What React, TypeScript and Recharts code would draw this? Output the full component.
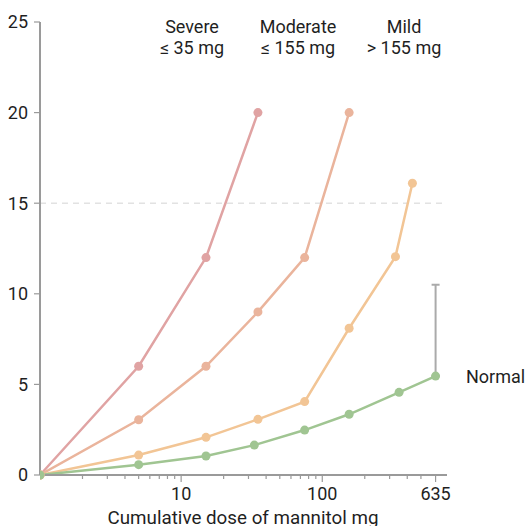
import React from 'react';
import { LineChart, Line, XAxis, YAxis, ReferenceLine, ErrorBar, Customized } from 'recharts';

const severeDose = [1, 5, 15, 35];
const severeFall = [0, 6, 12, 20];
const moderateDose = [1, 5, 15, 35, 75, 155];
const moderateFall = [0, 3.05, 6, 9, 12, 20];
const mildDose = [1, 5, 15, 35, 75, 155, 330, 435];
const mildFall = [0, 1.1, 2.08, 3.07, 4.05, 8.1, 12.05, 16.1];
const normalDose = [1, 5, 15, 33, 75, 155, 350, 635];
const normalFall = [0, 0.57, 1.05, 1.65, 2.48, 3.35, 4.56, 5.46];
const normalUpperError = [null, null, null, null, null, null, null, 5.04];

const yTicks = [0, 5, 10, 15, 20, 25];
const xTicks = [2, 3, 4, 5, 6, 7, 8, 9, 10, 20, 30, 40, 50, 60, 70, 80, 90, 100, 200, 300, 400, 500, 635];
const xLabeled = [10, 100, 635];

const groupLabels = [
  { title: 'Severe', sub: '≤ 35 mg', cx: 192 },
  { title: 'Moderate', sub: '≤ 155 mg', cx: 298 },
  { title: 'Mild', sub: '> 155 mg', cx: 404 },
];

const FONT = 'Roboto, "Noto Sans", sans-serif';
const TEXT = '#1f1f1f';
const AXIS = '#9a9a9a';

const build = (xs: number[], ys: number[], errs?: (number | null)[]) =>
  xs.map((x, i) => ({ x, y: ys[i], err: errs ? (errs[i] == null ? null : [0, errs[i]]) : null }));

const severeData = build(severeDose, severeFall);
const moderateData = build(moderateDose, moderateFall);
const mildData = build(mildDose, mildFall);
const normalData = build(normalDose, normalFall, normalUpperError);

const XTick = (props: any) => {
  const { x, y, payload } = props;
  const v = payload.value;
  const major = xLabeled.includes(v);
  return (
    <g>
      <line x1={x} x2={x} y1={y} y2={y + (major ? 7 : 4)} stroke={AXIS} strokeWidth={1.2} />
      {major && (
        <text x={x} y={y + 25} textAnchor="middle" fontSize={18} fontFamily={FONT} fill={TEXT}>
          {v}
        </text>
      )}
    </g>
  );
};

const Overlay = () => (
  <g fontFamily={FONT} fill={TEXT} fontSize={18}>
    {groupLabels.map((g) => (
      <g key={g.title}>
        <text x={g.cx} y={33} textAnchor="middle">{g.title}</text>
        <text x={g.cx} y={54} textAnchor="middle">{g.sub}</text>
      </g>
    ))}
    <text x={466} y={383} textAnchor="start">Normal</text>
    <text x={243} y={524} textAnchor="middle" fontSize={18.8}>Cumulative dose of mannitol mg</text>
  </g>
);

export default function App() {
  const dot = (c: string) => ({ r: 4.5, fill: c, stroke: 'none' });
  return (
    <div style={{ position: 'absolute', left: 0, top: 0, background: '#fff' }}>
      <LineChart width={529} height={526} margin={{ top: 22, right: 82, bottom: 0, left: 0 }}>
        <XAxis
          type="number"
          dataKey="x"
          scale="log"
          domain={[1, 765]}
          allowDataOverflow
          ticks={xTicks}
          interval={0}
          tick={<XTick />}
          tickLine={false}
          tickSize={0}
          tickMargin={0}
          height={51}
          axisLine={{ stroke: AXIS, strokeWidth: 2 }}
        />
        <YAxis
          type="number"
          dataKey="y"
          domain={[0, 25]}
          ticks={yTicks}
          width={40}
          tickSize={6}
          tickMargin={6}
          tickLine={{ stroke: AXIS, strokeWidth: 1.2 }}
          axisLine={{ stroke: AXIS, strokeWidth: 2 }}
          tick={{ fontSize: 18, fill: TEXT, fontFamily: FONT }}
        />
        <ReferenceLine y={15} stroke="#e2e2e2" strokeWidth={1.5} strokeDasharray="6 5" />
        <Line data={severeData} dataKey="y" stroke="#e0a3a3" strokeWidth={2.5} dot={dot('#e0a3a3')} activeDot={false} isAnimationActive={false} />
        <Line data={moderateData} dataKey="y" stroke="#eab49c" strokeWidth={2.5} dot={dot('#eab49c')} activeDot={false} isAnimationActive={false} />
        <Line data={mildData} dataKey="y" stroke="#f2c595" strokeWidth={2.5} dot={dot('#f2c595')} activeDot={false} isAnimationActive={false} />
        <Line data={normalData} dataKey="y" stroke="#a0c592" strokeWidth={2.5} dot={dot('#a0c592')} activeDot={false} isAnimationActive={false}>
          <ErrorBar dataKey="err" direction="y" width={4} stroke="#aaaaaa" strokeWidth={2} />
        </Line>
        <Customized component={Overlay} />
      </LineChart>
    </div>
  );
}
